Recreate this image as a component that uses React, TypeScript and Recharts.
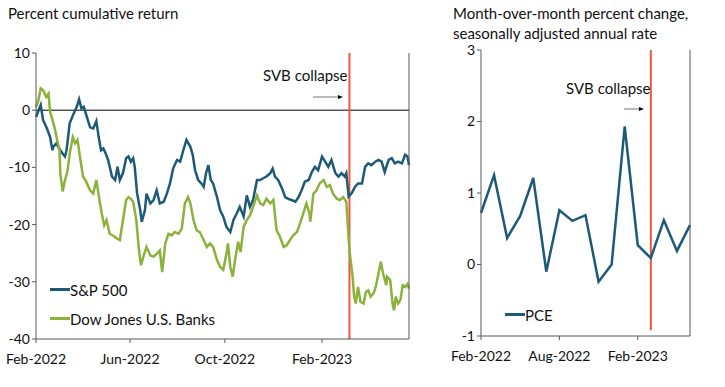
import React from "react";
import { LineChart, Line, XAxis, YAxis, ReferenceLine } from "recharts";

// days since 2022-02-01
const spDays = [0, 6, 9, 14, 18, 21, 22, 26, 31, 35, 37, 39, 43, 48, 52, 55, 58, 61, 65, 69, 73, 77, 80, 83, 86, 89, 92, 97, 101, 104, 107, 111, 115, 118, 121, 124, 126, 129, 133, 135, 139, 141, 146, 150, 154, 158, 163, 167, 171, 175, 180, 184, 188, 192, 197, 200, 203, 207, 211, 214, 217, 220, 223, 226, 231, 235, 239, 243, 248, 252, 256, 260, 265, 269, 273, 277, 282, 286, 290, 294, 299, 302, 305, 309, 314, 318, 322, 326, 331, 335, 339, 343, 348, 352, 356, 360, 365, 369, 373, 377, 382, 386, 390, 394, 396, 399, 403, 407, 411, 416, 420, 424, 428, 433, 437, 441, 445, 450, 454, 458, 462, 467, 471, 474, 476];
const spValues = [-1.2, 0.9, -1.7, -3.2, -4.7, -7, -6.4, -5.8, -7, -7.8, -8.1, -7, -2.3, -0.6, 0.6, 1.9, 0.3, 0.6, -1.2, -3, -3.2, -1.9, -4.7, -7, -6.7, -7.6, -8.7, -11.6, -12.2, -9.9, -12.2, -11, -8.4, -8.1, -9, -8.4, -9.9, -14.5, -17.5, -19.5, -17.5, -14.6, -16.3, -15.7, -14, -16.3, -16, -14.6, -12.8, -10.2, -8.7, -9, -7, -5.2, -6.4, -7.8, -10.5, -12.2, -12.8, -13.4, -11, -9.6, -12.2, -12.8, -15.2, -17.5, -18.6, -20.4, -21.3, -19.2, -18.1, -16.9, -18.6, -14.9, -16.9, -15.7, -12.2, -12.2, -11.9, -11.6, -11, -10.2, -11.6, -12.2, -13.7, -15.2, -15.5, -15.7, -16, -15.2, -14, -12.5, -12.2, -10.8, -9.9, -10.5, -8.1, -9, -9.9, -8.7, -11, -11.6, -11, -11.6, -11, -15.1, -14.5, -13.4, -12.8, -12.8, -9.9, -9.3, -9.6, -9, -8.7, -9, -10.8, -8.7, -8.4, -9.3, -9, -9.3, -7.8, -8.1, -9.6];

const bankDays = [0, 3, 6, 9, 13, 16, 18, 21, 24, 27, 30, 31, 34, 37, 40, 43, 47, 50, 53, 56, 60, 63, 66, 69, 73, 77, 81, 84, 87, 90, 94, 99, 103, 107, 111, 115, 118, 121, 124, 128, 131, 133, 134, 137, 141, 146, 150, 154, 158, 161, 165, 169, 173, 177, 182, 186, 190, 194, 197, 201, 205, 209, 214, 218, 222, 226, 231, 235, 239, 243, 245, 248, 251, 254, 258, 261, 265, 269, 273, 277, 282, 286, 290, 294, 299, 303, 307, 311, 316, 320, 324, 328, 333, 337, 341, 345, 349, 350, 354, 358, 362, 367, 371, 375, 379, 384, 388, 392, 396, 397, 400, 402, 404, 406, 408, 411, 414, 418, 421, 424, 427, 431, 434, 437, 440, 443, 447, 448, 452, 455, 457, 459, 462, 465, 468, 471, 474, 476];
const bankValues = [0.5, 1.7, 3.8, 3.5, 2.3, 2.9, -0.3, -1.7, -3.2, -5.2, -7, -11, -14.2, -12.2, -10.8, -7.6, -4.7, -5.8, -5.2, -8.1, -11.6, -12.2, -13.1, -14, -14.6, -12.2, -15.7, -18.1, -20.1, -19.2, -21.6, -22, -22.4, -22.7, -19.2, -15.7, -15.2, -15.5, -16, -19.2, -23.9, -26.2, -27.1, -25.6, -23.9, -25.4, -25.6, -25.1, -24.5, -28.3, -23.3, -21.6, -21.9, -21.3, -21.6, -20.7, -16.3, -15.2, -16.3, -19.2, -21, -21.3, -22.7, -23.9, -23.3, -23.9, -26.2, -27.4, -27.9, -25.1, -23.3, -27.4, -29.1, -26.2, -23, -24.8, -20.4, -19.2, -18.4, -16.9, -14.9, -16.3, -16.6, -15.5, -16.3, -15.7, -21, -22, -23.9, -23.6, -22.7, -21.9, -21.3, -19.8, -18.1, -16.3, -18.1, -19.5, -14.6, -14, -12.8, -12.2, -13.4, -13.1, -14.6, -15.5, -15.7, -15.2, -16, -18.1, -24.5, -26.8, -29.1, -32.6, -33.8, -30.9, -33.5, -33.8, -31.8, -31.5, -32.6, -32, -30.6, -28.6, -26.5, -28.6, -30.6, -29.1, -29.7, -33.8, -35, -32.6, -33.8, -33.2, -30.6, -30.9, -30.4, -31.2];

const leftTicks = [0, 120, 241, 365];
const leftTickLabels = ["Feb-2022", "Jun-2022", "Oct-2022", "Feb-2023"];
const svbDay = 400;

const pceMonths = ["Feb-2022", "Mar-2022", "Apr-2022", "May-2022", "Jun-2022", "Jul-2022", "Aug-2022", "Sep-2022", "Oct-2022", "Nov-2022", "Dec-2022", "Jan-2023", "Feb-2023", "Mar-2023", "Apr-2023", "May-2023", "Jun-2023"];
const pceValues = [0.72, 1.25, 0.37, 0.68, 1.21, -0.1, 0.76, 0.61, 0.69, -0.24, 0.0, 1.93, 0.27, 0.09, 0.62, 0.19, 0.55];
const rightTicks = ["Feb-2022", "Aug-2022", "Feb-2023"];

const spData = spDays.map((d, i) => ({ d, v: spValues[i] }));
const bankData = bankDays.map((d, i) => ({ d, v: bankValues[i] }));
const pceData = pceMonths.map((m, i) => ({ m, v: pceValues[i] }));

const BLUE = "#1d5a78";
const GREEN = "#8cb23b";
const RED = "#f2553a";
const AXIS = "#595959";
const FONT = "Lato, 'Open Sans', sans-serif";
const tickStyle = { fontSize: 14, fill: "#111", fontFamily: FONT };

function LegendBox({ items }: { items: { label: string; color: string }[] }) {
  return (
    <div style={{ fontFamily: FONT, fontSize: 15, color: "#111" }}>
      {items.map((it) => (
        <div key={it.label} style={{ display: "flex", alignItems: "center", height: 29 }}>
          <span style={{ display: "inline-block", width: 20, height: 3, background: it.color }} />
          <span>{it.label}</span>
        </div>
      ))}
    </div>
  );
}

export default function App() {
  return (
    <div style={{ position: "relative", width: 725, height: 387, background: "#fff", fontFamily: FONT }}>
      <style>{`body{margin:0}`}</style>
      <div style={{ position: "absolute", left: 8, top: 4, fontSize: 15, color: "#111" }}>
        Percent cumulative return
      </div>
      <div style={{ position: "absolute", left: 453, top: 3, fontSize: 15, color: "#111", lineHeight: "20px" }}>
        Month-over-month percent change,
        <br />
        seasonally adjusted annual rate
      </div>

      <div style={{ position: "absolute", left: 0, top: 0 }}>
        <LineChart width={440} height={387} margin={{ top: 53, right: 0, bottom: 0, left: 0 }}>
          <XAxis
            dataKey="d"
            type="number"
            domain={[0, 476]}
            ticks={leftTicks}
            tickFormatter={(v: number) => leftTickLabels[leftTicks.indexOf(v)] ?? ""}
            height={48}
            tickSize={4}
            tickMargin={11}
            stroke={AXIS}
            tick={tickStyle}
            allowDuplicatedCategory={false}
          />
          <YAxis yAxisId="l" domain={[-40, 10]} ticks={[-40, -30, -20, -10, 0, 10]} width={36} tickSize={4} stroke={AXIS} tick={tickStyle} />
          <YAxis yAxisId="r" orientation="right" domain={[-40, 10]} ticks={[-40, -30, -20, -10, 0, 10]} width={31} tickSize={4} stroke={AXIS} tick={tickStyle} />
          <ReferenceLine yAxisId="l" y={0} stroke="#000" strokeWidth={1} />
          <ReferenceLine yAxisId="l" x={svbDay} stroke={RED} strokeWidth={2} />
          <Line yAxisId="l" data={spData} dataKey="v" name="S&P 500" stroke={BLUE} strokeWidth={2.5} dot={false} isAnimationActive={false} />
          <Line yAxisId="l" data={bankData} dataKey="v" name="Dow Jones U.S. Banks" stroke={GREEN} strokeWidth={2.5} dot={false} isAnimationActive={false} />
        </LineChart>
      </div>

      <div style={{ position: "absolute", left: 440, top: 0 }}>
        <LineChart width={285} height={387} data={pceData} margin={{ top: 50, right: 0, bottom: 0, left: 0 }}>
          <XAxis dataKey="m" ticks={rightTicks} interval={0} height={51} tickSize={4} tickMargin={11} stroke={AXIS} tick={tickStyle} />
          <YAxis yAxisId="l" domain={[-1, 3]} ticks={[-1, 0, 1, 2, 3]} width={41} tickSize={4} stroke={AXIS} tick={tickStyle} />
          <YAxis yAxisId="r" orientation="right" domain={[-1, 3]} ticks={[-1, 0, 1, 2, 3]} width={35} tickSize={4} stroke={AXIS} tick={tickStyle} />
          <ReferenceLine
            yAxisId="l"
            segment={[{ x: "Mar-2023", y: 3 }, { x: "Mar-2023", y: -0.92 }]}
            stroke={RED}
            strokeWidth={2}
          />
          <Line yAxisId="l" dataKey="v" name="PCE" stroke={BLUE} strokeWidth={2.5} dot={false} isAnimationActive={false} />
        </LineChart>
      </div>

      <div style={{ position: "absolute", left: 50, top: 275 }}>
        <LegendBox items={[{ label: "S&P 500", color: BLUE }, { label: "Dow Jones U.S. Banks", color: GREEN }]} />
      </div>
      <div style={{ position: "absolute", left: 505, top: 300 }}>
        <LegendBox items={[{ label: "PCE", color: BLUE }]} />
      </div>

      <div style={{ position: "absolute", left: 263, top: 66, fontSize: 15, color: "#111" }}>SVB collapse</div>
      <div style={{ position: "absolute", left: 566, top: 79, fontSize: 15, color: "#111" }}>SVB collapse</div>
      <svg width={725} height={387} style={{ position: "absolute", left: 0, top: 0, pointerEvents: "none" }}>
        <line x1={313} y1={97} x2={340} y2={97} stroke="#777" strokeWidth={1} />
        <path d="M338,95 L343,97 L338,99 z" fill="#000" />
        <line x1={624} y1={109} x2={641} y2={109} stroke="#777" strokeWidth={1} />
        <path d="M639,107 L644,109 L639,111 z" fill="#000" />
      </svg>
    </div>
  );
}
